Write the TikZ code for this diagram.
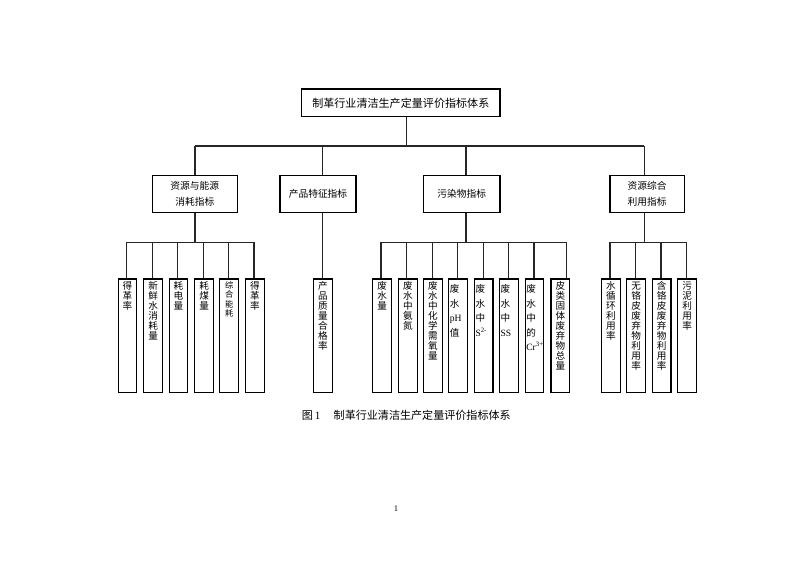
\documentclass[tikz,border=0pt]{standalone}
\usepackage{fontspec}
\setmainfont{Liberation Serif}
\newfontfamily\cjk{Noto Sans CJK SC}
\tikzset{
  x=0.75pt, y=-0.75pt,
  ln/.style={draw=black!85, line width=0.8pt},
  topbox/.style={draw=black, line width=0.9pt, minimum width=198.3*0.75pt, minimum height=27.7*0.75pt, inner sep=0pt, font=\cjk\fontsize{8.3}{10}\selectfont},
  midbox/.style={draw=black, line width=0.9pt, minimum height=36.6*0.75pt, inner sep=0pt, align=center, font=\cjk\fontsize{7.3}{11.7}\selectfont},
  leafbox/.style={draw=black, line width=0.9pt, minimum width=18.7*0.75pt, minimum height=113.3*0.75pt, inner sep=0pt},
  leaftxt/.style={anchor=north, inner sep=0pt, align=center, font=\cjk\fontsize{7.2}{7.5}\selectfont},
  leaftxtl/.style={anchor=north west, inner sep=0pt, align=left, font=\cjk\fontsize{7.2}{10.9}\selectfont},
}
\newcommand{\lt}[1]{{\normalfont\fontsize{7.2}{10.9}\selectfont #1}}
\begin{document}
\begin{tikzpicture}
\useasboundingbox (0,0) rectangle (793,561);
\fill[white] (0,0) rectangle (793,561);
% top
\node[topbox] (top) at (400.8,102.8) {制革行业清洁生产定量评价指标体系};
\coordinate (tj) at (406.7,146);
% level 2
\node[midbox, minimum width=85*0.75pt] (A) at (194.8,194) {资源与能源\\消耗指标};
\node[midbox, minimum width=76*0.75pt] (B) at (318,194) {产品特征指标};
\node[midbox, minimum width=76.7*0.75pt] (C) at (461.7,194) {污染物指标};
\node[midbox, minimum width=74.3*0.75pt] (D) at (647.2,194) {资源综合\\利用指标};
\coordinate (bA) at (195,146);
\coordinate (bB) at (322.3,146);
\coordinate (bC) at (466,146);
\coordinate (bD) at (644.3,146);
\draw[ln] (tj |- top.south) -- (tj);
\draw[ln] (bA) -- (bD);
\draw[ln] (bA) -- (bA |- A.north);
\draw[ln] (bB) -- (bB |- B.north);
\draw[ln] (bC) -- (bC |- C.north);
\draw[ln] (bD) -- (bD |- D.north);
% leaves
\foreach \n/\x in {a1/127.5,a2/153.2,a3/178.5,a4/204.2,a5/229.2,a6/255,
                   p1/322.8,
                   c1/382.2,c2/407.8,c3/432.8,c4/458,c5/483.7,c6/508.8,c7/534.5,c8/560.3,
                   d1/610.8,d2/636.2,d3/661.7,d4/687.2}
  \node[leafbox] (\n) at (\x,335.7) {};
% junction coordinates on lower bars
\foreach \n/\x in {ja1/126.7,ja2/152.3,ja3/177.7,ja4/203.3,ja5/228.3,ja6/254,
                   jc1/381,jc2/406.7,jc3/432.3,jc4/457.7,jc5/483.3,jc6/508.3,jc7/534,jc8/566.7,
                   jd1/610,jd2/635.7,jd3/661,jd4/686.7}
  \coordinate (\n) at (\x,242.3);
\draw[ln] (A.south -| bA) -- (bA |- ja1);
\draw[ln] (ja1) -- (ja6);
\foreach \i in {1,...,6} \draw[ln] (ja\i) -- (ja\i |- a\i.north);
\draw[ln] (B.south -| bB) -- (bB |- p1.north);
\draw[ln] (C.south -| bC) -- (bC |- jc1);
\draw[ln] (jc1) -- (jc8);
\foreach \i in {1,...,8} \draw[ln] (jc\i) -- (jc\i |- c\i.north);
\draw[ln] (D.south -| bD) -- (bD |- jd1);
\draw[ln] (jd1) -- (jd4);
\foreach \i in {1,...,4} \draw[ln] (jd\i) -- (jd\i |- d\i.north);
% leaf texts
\node[leaftxt] (ta1) at ([yshift=-3*0.75pt]a1.north) {得\\革\\率};
\node[leaftxt] (ta2) at ([yshift=-3*0.75pt]a2.north) {新\\鲜\\水\\消\\耗\\量};
\node[leaftxt] (ta3) at ([yshift=-3*0.75pt]a3.north) {耗\\电\\量};
\node[leaftxt] (ta4) at ([yshift=-3*0.75pt]a4.north) {耗\\煤\\量};
\node[leaftxt, font=\cjk\fontsize{6.2}{6.9}\selectfont] (ta5) at ([yshift=-3*0.75pt]a5.north) {综\\合\\能\\耗};
\node[leaftxt] (ta6) at ([yshift=-3*0.75pt]a6.north) {得\\革\\率};
\node[leaftxt] (tp1) at ([yshift=-3*0.75pt]p1.north) {产\\品\\质\\量\\合\\格\\率};
\node[leaftxt] (tc1) at ([yshift=-3*0.75pt]c1.north) {废\\水\\量};
\node[leaftxt] (tc2) at ([yshift=-3*0.75pt]c2.north) {废\\水\\中\\氨\\氮};
\node[leaftxt] (tc3) at ([yshift=-3*0.75pt]c3.north) {废\\水\\中\\化\\学\\需\\氧\\量};
\node[leaftxtl] (tc4) at ([xshift=1.5*0.75pt,yshift=-6*0.75pt]c4.north west) {废\\水\\\lt{pH}\\值};
\node[leaftxtl] (tc5) at ([xshift=1.5*0.75pt,yshift=-6*0.75pt]c5.north west) {废\\水\\中\\\lt{S\textsuperscript{2-}}};
\node[leaftxtl] (tc6) at ([xshift=1.5*0.75pt,yshift=-6*0.75pt]c6.north west) {废\\水\\中\\\lt{SS}};
\node[leaftxtl] (tc7) at ([xshift=1.5*0.75pt,yshift=-6*0.75pt]c7.north west) {废\\水\\中\\的\\\lt{Cr\textsuperscript{3+}}};
\node[leaftxt] (tc8) at ([yshift=-3*0.75pt]c8.north) {皮\\类\\固\\体\\废\\弃\\物\\总\\量};
\node[leaftxt] (td1) at ([yshift=-3*0.75pt]d1.north) {水\\循\\环\\利\\用\\率};
\node[leaftxt] (td2) at ([yshift=-3*0.75pt]d2.north) {无\\铬\\皮\\废\\弃\\物\\利\\用\\率};
\node[leaftxt] (td3) at ([yshift=-3*0.75pt]d3.north) {含\\铬\\皮\\废\\弃\\物\\利\\用\\率};
\node[leaftxt] (td4) at ([yshift=-3*0.75pt]d4.north) {污\\泥\\利\\用\\率};
% caption
\node[inner sep=0pt, anchor=west, font=\cjk\fontsize{8.3}{10}\selectfont] (cap) at (301.7,415.7) {图\,{\normalfont 1}\hspace{1.2em}制革行业清洁生产定量评价指标体系};
\node[inner sep=0pt, font=\fontsize{6.5}{8}\selectfont] (pg) at (396,509) {1};
\end{tikzpicture}
\end{document}
